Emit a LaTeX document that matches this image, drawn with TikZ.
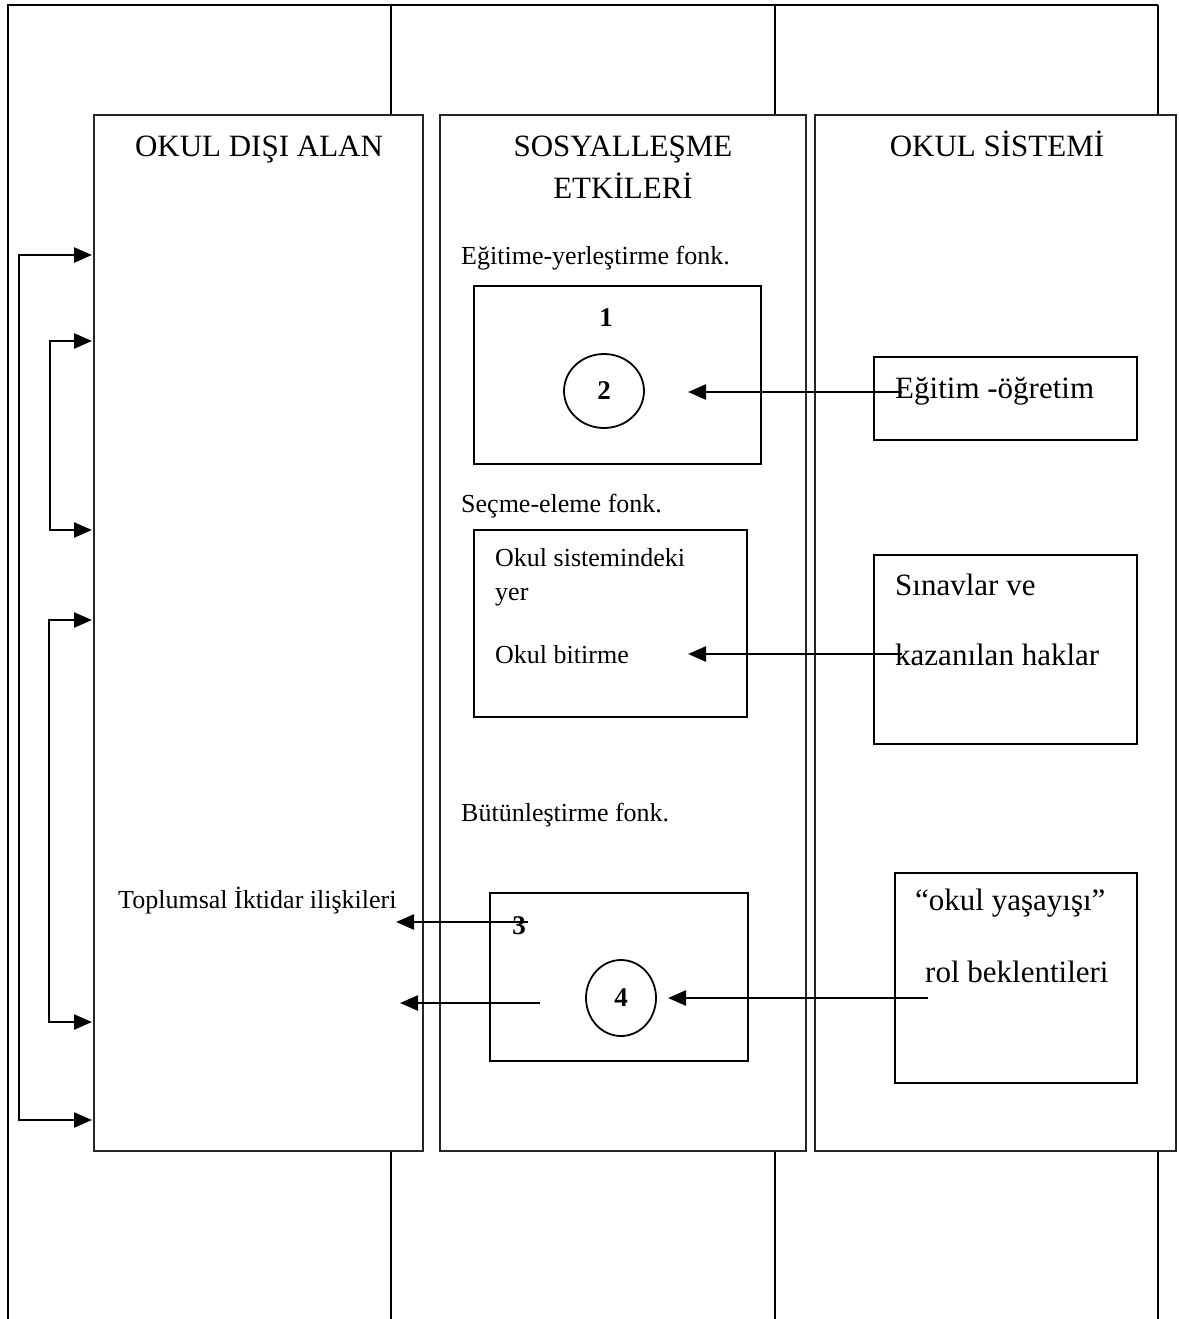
\documentclass[tikz,border=0pt]{standalone}
\usepackage{fontspec}
\setmainfont{Liberation Serif}
\usetikzlibrary{arrows.meta,shapes.geometric}
\tikzset{
  frameline/.style={line width=2pt},
  colbox/.style={draw=black!85, line width=2pt, rectangle, inner sep=0pt},
  innerbox/.style={draw, line width=2pt, rectangle, inner sep=0pt},
  circ/.style={draw, ellipse, line width=1.8pt, inner sep=0pt, font=\fontsize{27}{30}\selectfont\bfseries},
  numlabel/.style={inner sep=0pt, font=\fontsize{27}{30}\selectfont\bfseries},
  conn/.style={line width=2.4pt, -{Triangle[length=18pt,width=15pt]}},
  bracket/.style={line width=2.4pt, {Triangle[length=18pt,width=15pt]}-{Triangle[length=18pt,width=15pt]}},
  head/.style={font=\fontsize{31}{41}\selectfont, align=center, inner sep=0pt, anchor=base},
  smalltext/.style={font=\fontsize{26}{34}\selectfont, anchor=mid west, inner sep=0pt},
  bigtext/.style={font=\fontsize{31}{40}\selectfont, anchor=mid west, inner sep=0pt},
}
\begin{document}
\begin{tikzpicture}[x=1pt,y=-1pt]
\useasboundingbox (0,0) rectangle (1178,1319);
\fill[white] (0,0) rectangle (1178,1319);

% outer frame lines
\draw[frameline] (8,1319) -- (8,5) -- (1158,5);
\draw[frameline] (391,5) -- (391,115);
\draw[frameline] (775,5) -- (775,115);
\draw[frameline] (1158,5) -- (1158,115);
\draw[frameline] (391,1151) -- (391,1319);
\draw[frameline] (775,1151) -- (775,1319);
\draw[frameline] (1158,1151) -- (1158,1319);

% columns
\node[colbox, minimum width=329pt, minimum height=1036pt] (colL) at (258.5,633) {};
\node[colbox, minimum width=366pt, minimum height=1036pt] (colM) at (623,633) {};
\node[colbox, minimum width=361pt, minimum height=1036pt] (colR) at (995.5,633) {};

% headings
\node[head] (hL) at (259,156) {OKUL DIŞI ALAN};
\node[head] (hM) at (623,157) {SOSYALLEŞME};
\node[head] (hM2) at (623,198) {ETKİLERİ};
\node[head] (hR) at (997,156) {OKUL SİSTEMİ};

% middle column function labels
\node[smalltext] (f1) at (461,262) {Eğitime-yerleştirme fonk.};
\node[smalltext] (f2) at (461,510) {Seçme-eleme fonk.};
\node[smalltext] (f3) at (461,819) {Bütünleştirme fonk.};

% box 1
\node[innerbox, minimum width=287pt, minimum height=178pt] (b1) at (617.5,375) {};
\node[numlabel] (n1) at (606,318) {1};
\node[circ, minimum width=80pt, minimum height=74pt] (c2) at (604,391) {2};

% box 2
\node[innerbox, minimum width=273pt, minimum height=187pt] (b2) at (610.5,623.5) {};
\node[smalltext] (t2a) at (495,564) {Okul sistemindeki};
\node[smalltext] (t2b) at (495,598) {yer};
\node[smalltext] (t2c) at (495,661) {Okul bitirme};

% box 3
\node[innerbox, minimum width=258pt, minimum height=168pt] (b3) at (619,977) {};
\node[numlabel] (n3) at (519,926) {3};
\node[circ, minimum width=70pt, minimum height=76pt] (c4) at (621,998) {4};

% right column boxes
\node[innerbox, minimum width=263pt, minimum height=83pt] (rb1) at (1005.5,398.5) {};
\node[bigtext] (rt1) at (895,396) {Eğitim -öğretim};
\node[innerbox, minimum width=263pt, minimum height=189pt] (rb2) at (1005.5,649.5) {};
\node[bigtext] (rt2a) at (895,593) {Sınavlar ve};
\node[bigtext] (rt2b) at (895,663) {kazanılan haklar};
\node[innerbox, minimum width=242pt, minimum height=210pt] (rb3) at (1016,978) {};
\node[bigtext] (rt3a) at (915,908) {“okul yaşayışı”};
\node[bigtext] (rt3b) at (925,980) {rol beklentileri};

% left label
\node[smalltext] (tp) at (118,906) {Toplumsal İktidar ilişkileri};

% connector end points
\coordinate (a1s) at (902,392);
\coordinate (a1e) at (688,392);
\coordinate (a2s) at (902,654);
\coordinate (a2e) at (688,654);
\coordinate (a4s) at (928,998);
\coordinate (a4e) at (668,998);
\coordinate (a3s) at (528,922);
\coordinate (a3e) at (396,922);
\coordinate (a5s) at (540,1003);
\coordinate (a5e) at (400,1003);

\draw[conn] (a1s) -- (a1e);
\draw[conn] (a2s) -- (a2e);
\draw[conn] (a4s) -- (a4e);
\draw[conn] (a3s) -- (a3e);
\draw[conn] (a5s) -- (a5e);

% left brackets
\coordinate (o1) at (92,255);
\coordinate (o2) at (92,1120);
\coordinate (i1) at (92,341);
\coordinate (i2) at (92,530);
\coordinate (j1) at (92,620);
\coordinate (j2) at (92,1022);
\draw[bracket] (o1) -- (19,255) -- (19,1120) -- (o2);
\draw[bracket] (i1) -- (50,341) -- (50,530) -- (i2);
\draw[bracket] (j1) -- (49,620) -- (49,1022) -- (j2);
\end{tikzpicture}
\end{document}
